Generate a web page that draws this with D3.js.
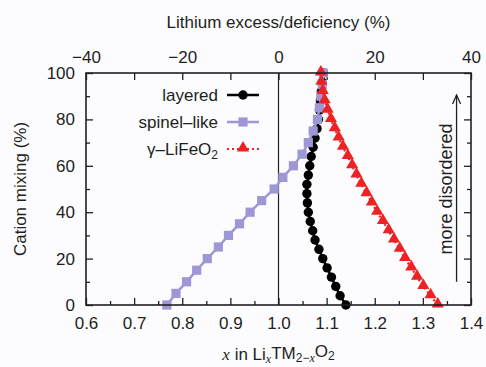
<!DOCTYPE html>
<html>
<head>
<meta charset="utf-8">
<script src="https://cdn.jsdelivr.net/npm/d3@7"></script>
<style>
  html, body { margin: 0; padding: 0; background: #fcfcfe; }
  svg { display: block; font-family: "Liberation Sans", Arial, Helvetica, sans-serif; }
  .tick text { fill: #231f20; font-size: 17px; }
  .axis-label { fill: #231f20; font-size: 17px; }
  .legend-text { fill: #231f20; font-size: 17px; }
</style>
</head>
<body>
<div id="chart"></div>
<script>
// Cation mixing vs. Li content for three ordering models.

const spinelMixing = [0, 5, 10, 15, 20, 25, 30, 35, 40, 45, 50, 55, 60, 65, 70, 75, 80, 85, 90, 95, 100];
const spinelX = [0.768, 0.787, 0.809, 0.830, 0.852, 0.875, 0.896, 0.919, 0.941, 0.965, 0.991,
  1.009, 1.031, 1.049, 1.062, 1.072, 1.081, 1.085, 1.088, 1.091, 1.093];

const layeredMixing = [0, 4, 8, 12, 16, 20, 24, 28, 32, 36, 40, 44, 48, 52, 56, 60, 64, 68, 72, 76, 80, 84, 88, 92, 96, 100];
const layeredX = [1.140, 1.128, 1.119, 1.110, 1.101, 1.092, 1.084, 1.076, 1.071, 1.066, 1.062, 1.060, 1.059,
  1.059, 1.062, 1.065, 1.068, 1.072, 1.076, 1.080, 1.083, 1.085, 1.087, 1.089, 1.091, 1.093];

const gammaMixing = [0, 4, 8, 12, 16, 20, 24, 28, 32, 36, 40, 44, 48, 52, 56, 60, 64, 68, 72, 76, 80, 84, 88, 92, 96, 100];
const gammaX = [1.331, 1.316, 1.301, 1.288, 1.276, 1.263, 1.252, 1.240, 1.229, 1.217, 1.205, 1.194, 1.183,
  1.172, 1.162, 1.153, 1.144, 1.134, 1.125, 1.117, 1.109, 1.102, 1.096, 1.092, 1.089, 1.088];

const bottomTicks = [0.6, 0.7, 0.8, 0.9, 1.0, 1.1, 1.2, 1.3, 1.4];
const topTicks = [-40, -20, 0, 20, 40];
const yTicks = [0, 20, 40, 60, 80, 100];

(function drawChart() {
  "use strict";

  const width = 486;
  const height = 367;
  const margin = { top: 73, right: 15, bottom: 62, left: 86 };
  const ink = "#231f20";
  const lavender = "#9d97d6";
  const red = "#ec2224";
  const serif = "'Liberation Serif', 'Times New Roman', serif";

  const svg = d3.select("#chart").append("svg")
    .attr("width", width)
    .attr("height", height);

  const x = d3.scaleLinear().domain([0.6, 1.4]).range([margin.left, width - margin.right]);
  const xTop = d3.scaleLinear().domain([-40, 40]).range([margin.left, width - margin.right]);
  const y = d3.scaleLinear().domain([0, 100]).range([height - margin.bottom, margin.top]);

  const x0 = margin.left, x1 = width - margin.right;
  const y0 = height - margin.bottom, y1 = margin.top;

  // axes with inward ticks, minor ticks drawn separately
  function styleAxis(g) {
    g.select(".domain").remove();
    g.selectAll(".tick line").attr("stroke", ink).attr("stroke-width", 1.3);
  }

  svg.append("g")
    .attr("transform", "translate(0," + y0 + ")")
    .call(d3.axisBottom(x).tickValues(bottomTicks).tickSize(-7).tickPadding(12).tickFormat(d3.format(".1f")))
    .call(styleAxis);
  svg.append("g")
    .attr("transform", "translate(0," + y0 + ")")
    .call(d3.axisBottom(x).tickValues(d3.range(0.65, 1.4, 0.1)).tickSize(-4).tickFormat(""))
    .call(styleAxis);

  svg.append("g")
    .attr("transform", "translate(0," + y1 + ")")
    .call(d3.axisTop(xTop).tickValues(topTicks).tickSize(-7).tickPadding(10)
      .tickFormat(function (d) { return d < 0 ? "\u2212" + Math.abs(d) : d; }))
    .call(styleAxis);
  svg.append("g")
    .attr("transform", "translate(0," + y1 + ")")
    .call(d3.axisTop(xTop).tickValues([-30, -10, 10, 30]).tickSize(-7).tickFormat(""))
    .call(styleAxis);

  svg.append("g")
    .attr("transform", "translate(" + x0 + ",0)")
    .call(d3.axisLeft(y).tickValues(yTicks).tickSize(-7).tickPadding(11))
    .call(styleAxis);
  svg.append("g")
    .attr("transform", "translate(" + x0 + ",0)")
    .call(d3.axisLeft(y).tickValues([10, 30, 50, 70, 90]).tickSize(-4).tickFormat(""))
    .call(styleAxis);

  svg.append("g")
    .attr("transform", "translate(" + x1 + ",0)")
    .call(d3.axisRight(y).tickValues(yTicks).tickSize(-7).tickFormat(""))
    .call(styleAxis);
  svg.append("g")
    .attr("transform", "translate(" + x1 + ",0)")
    .call(d3.axisRight(y).tickValues([10, 30, 50, 70, 90]).tickSize(-4).tickFormat(""))
    .call(styleAxis);

  // vertical reference at x = 1.0
  svg.append("line")
    .attr("x1", x(1.0)).attr("x2", x(1.0))
    .attr("y1", y(0)).attr("y2", y(100))
    .attr("stroke", ink).attr("stroke-width", 1.2);

  function pairs(xs, ys) {
    return xs.map(function (v, i) { return [v, ys[i]]; });
  }
  const line = d3.line()
    .x(function (d) { return x(d[0]); })
    .y(function (d) { return y(d[1]); });

  const layered = pairs(layeredX, layeredMixing);
  const spinel = pairs(spinelX, spinelMixing);
  const gamma = pairs(gammaX, gammaMixing);

  // layered
  svg.append("path").datum(layered)
    .attr("d", line).attr("fill", "none").attr("stroke", "#000").attr("stroke-width", 2.5);
  svg.append("g").selectAll("circle").data(layered).enter().append("circle")
    .attr("cx", function (d) { return x(d[0]); })
    .attr("cy", function (d) { return y(d[1]); })
    .attr("r", 4.7).attr("fill", "#000");

  // spinel-like
  svg.append("path").datum(spinel)
    .attr("d", line).attr("fill", "none").attr("stroke", lavender).attr("stroke-width", 2.5);
  svg.append("g").selectAll("rect").data(spinel).enter().append("rect")
    .attr("x", function (d) { return x(d[0]) - 4.6; })
    .attr("y", function (d) { return y(d[1]) - 4.6; })
    .attr("width", 9.2).attr("height", 9.2).attr("fill", lavender);

  // gamma-LiFeO2
  const tri = d3.symbol().type(d3.symbolTriangle).size(64);
  svg.append("path").datum(gamma)
    .attr("d", line).attr("fill", "none").attr("stroke", red)
    .attr("stroke-width", 2.2).attr("stroke-dasharray", "2,3");
  svg.append("g").selectAll("path").data(gamma).enter().append("path")
    .attr("d", tri)
    .attr("transform", function (d) { return "translate(" + x(d[0]) + "," + (y(d[1]) - 1) + ")"; })
    .attr("fill", red);

  // frame
  svg.append("rect")
    .attr("x", x0).attr("y", y1).attr("width", x1 - x0).attr("height", y0 - y1)
    .attr("fill", "none").attr("stroke", ink).attr("stroke-width", 1.6);

  // legend
  const legendRows = [
    { label: "layered", y: 95, kind: "circle" },
    { label: "spinel\u2013like", y: 122, kind: "square" },
    { label: "gamma", y: 149, kind: "triangle" }
  ];
  legendRows.forEach(function (row) {
    const t = svg.append("text").attr("class", "legend-text")
      .attr("x", 218).attr("y", row.y).attr("dy", "0.35em").attr("text-anchor", "end");
    if (row.kind === "triangle") {
      t.append("tspan").text("\u03b3\u2013LiFeO");
      t.append("tspan").attr("font-size", "12px").attr("dy", "0.3em").text("2");
    } else {
      t.text(row.label);
    }
    if (row.kind === "circle") {
      svg.append("line").attr("x1", 227).attr("x2", 259).attr("y1", row.y).attr("y2", row.y)
        .attr("stroke", "#000").attr("stroke-width", 2.5);
      svg.append("circle").attr("cx", 243).attr("cy", row.y).attr("r", 4.7).attr("fill", "#000");
    } else if (row.kind === "square") {
      svg.append("line").attr("x1", 227).attr("x2", 259).attr("y1", row.y).attr("y2", row.y)
        .attr("stroke", lavender).attr("stroke-width", 2.5);
      svg.append("rect").attr("x", 243 - 4.6).attr("y", row.y - 4.6)
        .attr("width", 9.2).attr("height", 9.2).attr("fill", lavender);
    } else {
      svg.append("line").attr("x1", 227).attr("x2", 259).attr("y1", row.y).attr("y2", row.y)
        .attr("stroke", red).attr("stroke-width", 2.2).attr("stroke-dasharray", "2,3");
      svg.append("path").attr("d", tri)
        .attr("transform", "translate(243," + (row.y - 1) + ")").attr("fill", red);
    }
  });

  // "more disordered" annotation
  svg.append("text").attr("class", "axis-label")
    .style("font-size", "18px")
    .attr("transform", "translate(" + x(1.347) + "," + y(50) + ") rotate(-90)")
    .attr("text-anchor", "middle").attr("dy", "0.35em")
    .text("more disordered");
  svg.append("line")
    .attr("x1", x(1.37)).attr("x2", x(1.37))
    .attr("y1", y(10)).attr("y2", y(90.5))
    .attr("stroke", ink).attr("stroke-width", 1.3);
  svg.append("path")
    .attr("d", "M" + (x(1.37) - 4) + "," + (y(90.5) + 9) + "L" + x(1.37) + "," + y(90.5) +
      "L" + (x(1.37) + 4) + "," + (y(90.5) + 9))
    .attr("fill", "none").attr("stroke", ink).attr("stroke-width", 1.3);

  // axis titles
  svg.append("text").attr("class", "axis-label")
    .attr("x", (x0 + x1) / 2).attr("y", 22).attr("dy", "0.35em").attr("text-anchor", "middle")
    .text("Lithium excess/deficiency (%)");

  svg.append("text").attr("class", "axis-label")
    .attr("transform", "translate(20," + ((y0 + y1) / 2) + ") rotate(-90)")
    .attr("text-anchor", "middle").attr("dy", "0.35em")
    .text("Cation mixing (%)");

  const xt = svg.append("text").attr("class", "axis-label")
    .attr("x", (x0 + x1) / 2).attr("y", 354).attr("dy", "0.35em").attr("text-anchor", "middle");
  xt.append("tspan").attr("font-family", serif).attr("font-style", "italic").text("x");
  xt.append("tspan").text(" in Li");
  xt.append("tspan").attr("font-size", "12px").attr("dy", "0.25em")
    .attr("font-family", serif).attr("font-style", "italic").text("x");
  xt.append("tspan").attr("dy", "-0.25em").text("TM");
  xt.append("tspan").attr("font-size", "12px").attr("dy", "0.25em").text("2\u2212");
  xt.append("tspan").attr("font-size", "12px")
    .attr("font-family", serif).attr("font-style", "italic").text("x");
  xt.append("tspan").attr("dy", "-0.25em").text("O");
  xt.append("tspan").attr("font-size", "12px").attr("dy", "0.25em").text("2");
})();
</script>
</body>
</html>
